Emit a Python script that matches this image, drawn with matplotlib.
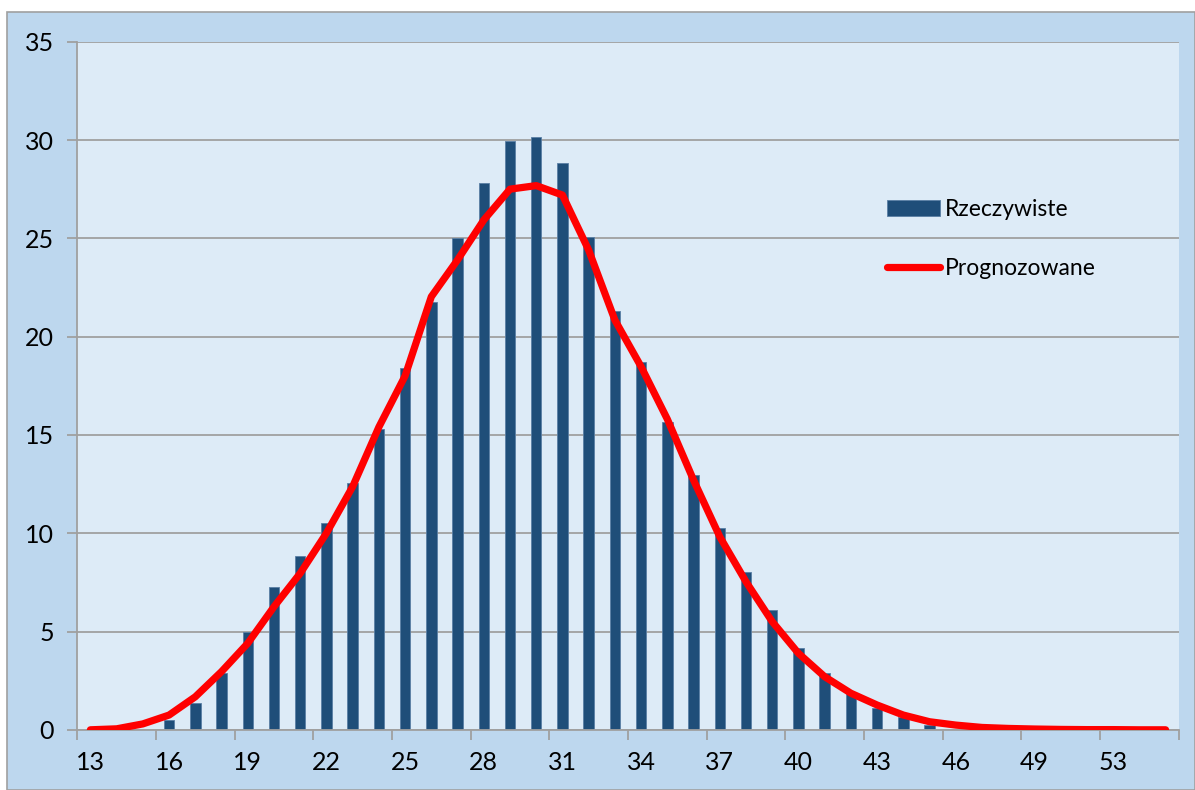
import matplotlib
matplotlib.use('Agg')
import matplotlib.pyplot as plt
from matplotlib.patches import Rectangle
import numpy as np

plt.rcParams['font.family'] = ['Lato', 'DejaVu Sans']

# categories (x axis)
categories = [str(v) for v in range(13, 50)] + ['50', '51', '53', '54', '55']

# bars - actual
rzeczywiste = [0, 0, 0, 0.5, 1.35, 2.87, 4.96, 7.25, 8.86, 10.5,
               12.54, 15.28, 18.4, 21.78, 25.0, 27.83, 29.97, 30.14, 28.83, 25.05,
               21.29, 18.72, 15.65, 12.95, 10.26, 8.01, 6.09, 4.18, 2.87, 1.8,
               1.1, 0.67, 0.25, 0, 0, 0, 0, 0, 0, 0,
               0, 0]

# line - forecast
prognozowane = [0, 0.05, 0.3, 0.75, 1.68, 2.96, 4.4, 6.26, 7.96, 10.0,
                12.37, 15.4, 18.0, 22.03, 23.9, 25.93, 27.5, 27.68, 27.2, 24.4,
                20.84, 18.47, 15.8, 12.7, 9.82, 7.53, 5.5, 3.89, 2.7, 1.86,
                1.26, 0.75, 0.41, 0.24, 0.12, 0.07, 0.04, 0.02, 0.01, 0.01,
                0, 0]

x = np.arange(len(categories))

fig = plt.figure(figsize=(11.95, 7.9), dpi=100, facecolor='white')
# outer chart area
fig.patches.append(Rectangle((7 / 1195, 0), 1 - 7 / 1195, 1 - 12 / 790,
                             transform=fig.transFigure, facecolor='#BDD7EE',
                             edgecolor='#A0A0A0', lw=1.2, zorder=-10))

ax = fig.add_axes([77.3 / 1195, 60.2 / 790, 1101.4 / 1195, 688.1 / 790])
ax.set_facecolor('#DDEBF7')

bars = ax.bar(x, rzeczywiste, width=0.4, color='#1F4E79', edgecolor='#5a7fa5',
              linewidth=0.6, label='Rzeczywiste', zorder=2)
line, = ax.plot(x, prognozowane, color='#FF0000', lw=5.2, solid_capstyle='round',
                solid_joinstyle='round', label='Prognozowane', zorder=3)

ax.set_xlim(-0.5, len(categories) - 0.5)
ax.set_ylim(0, 35)
ax.set_yticks(range(0, 36, 5))
ax.yaxis.grid(True, color='#A0A0A0', lw=1.3, zorder=1)
ax.set_axisbelow(True)

# tick marks between categories, labels every third category
ax.set_xticks(np.arange(-0.5, len(categories), 3))
ax.set_xticklabels([])
ax.set_xticks(x[::3], minor=True)
ax.set_xticklabels(categories[::3], minor=True)
ax.tick_params(axis='x', which='minor', length=0, pad=15, labelsize=18)
ax.tick_params(axis='x', which='major', length=7, color='#A0A0A0', width=1.3)
ax.tick_params(axis='y', length=7, color='#A0A0A0', width=1.3, pad=10, labelsize=18)

for s in ['top', 'right']:
    ax.spines[s].set_visible(False)
for s in ['left', 'bottom']:
    ax.spines[s].set_color('#A0A0A0')
    ax.spines[s].set_linewidth(1.3)

ax.legend([bars, line], ['Rzeczywiste', 'Prognozowane'],
          loc='upper left', bbox_to_anchor=(876 / 1195, 1 - 188 / 790),
          bbox_transform=fig.transFigure, frameon=False, fontsize=16.5,
          handlelength=2.3, handletextpad=0.2, labelspacing=1.65, borderpad=0)

fig.savefig('out.png', dpi=100, facecolor='white')
